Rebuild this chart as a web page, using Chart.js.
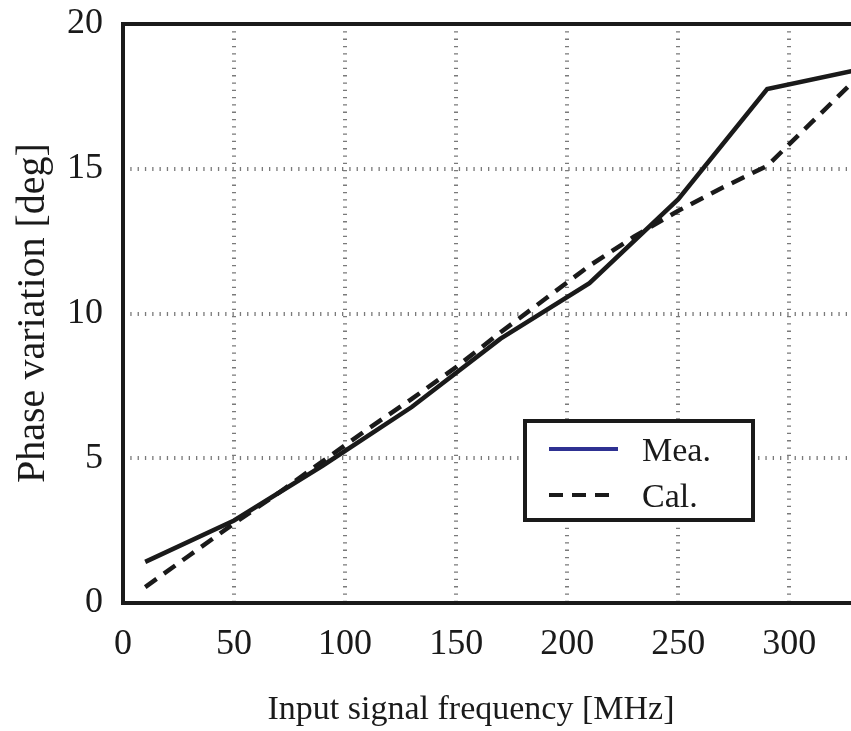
<!DOCTYPE html>
<html>
<head>
<meta charset="utf-8">
<script src="https://cdn.jsdelivr.net/npm/chart.js@4"></script>
<style>
  html, body { margin: 0; padding: 0; background: #fff; overflow: hidden; }
  canvas { display: block; }
</style>
</head>
<body>
<canvas id="phaseChart" width="870" height="731"></canvas>
<script>
// measured points (solid line)
const freqMea = [10, 50, 90, 130, 170, 210, 250, 290, 330];
const phaseMea = [1.42, 2.85, 4.75, 6.77, 9.13, 11.05, 13.95, 17.75, 18.4];

// calculated points (dashed line)
const freqCal = [10, 30, 50, 70, 90, 110, 130, 150, 170, 190, 210, 230, 250, 270, 290, 310, 330];
const phaseCal = [0.55, 1.65, 2.75, 3.8, 4.9, 6.0, 7.05, 8.15, 9.35, 10.5, 11.65, 12.65, 13.55, 14.35, 15.1, 16.6, 18.1];

const xTicks = [0, 50, 100, 150, 200, 250, 300];
const yTicks = [0, 5, 10, 15, 20];
const seriesNames = ['Mea.', 'Cal.'];
const legendColors = ['#2e3192', '#1a1a1a'];

const serif = '"Liberation Serif", "Times New Roman", serif';

const toPoints = (xs, ys) => xs.map((x, i) => ({ x: x, y: ys[i] }));

// frame + axis titles + legend box
const decorPlugin = {
    id: 'decor',
    afterDatasetsDraw(chart) {
        const ctx = chart.ctx;
        const a = chart.chartArea;
        ctx.save();
        ctx.strokeStyle = '#1a1a1a';
        ctx.lineWidth = 4;
        ctx.strokeRect(a.left, a.top, a.right - a.left, a.bottom - a.top);
        ctx.restore();
    },
    afterDraw(chart) {
        const ctx = chart.ctx;
        ctx.save();
        ctx.fillStyle = '#1a1a1a';
        ctx.textAlign = 'center';
        ctx.textBaseline = 'middle';
        ctx.font = '34px ' + serif;
        ctx.fillText('Input signal frequency [MHz]', 471, 710);

        ctx.font = '40px ' + serif;
        ctx.translate(33, 313);
        ctx.rotate(-Math.PI / 2);
        ctx.fillText('Phase variation [deg]', 0, 0);
        ctx.restore();

        // legend
        ctx.save();
        ctx.fillStyle = '#fff';
        ctx.fillRect(525, 421, 228, 99);
        ctx.strokeStyle = '#1a1a1a';
        ctx.lineWidth = 4;
        ctx.strokeRect(525, 421, 228, 99);
        chart.data.datasets.forEach((ds, i) => {
            const y = 449 + i * 46;
            ctx.beginPath();
            ctx.lineWidth = 4;
            ctx.strokeStyle = legendColors[i];
            ctx.setLineDash(ds.borderDash || []);
            ctx.moveTo(549, y);
            ctx.lineTo(618, y);
            ctx.stroke();
            ctx.setLineDash([]);
            ctx.fillStyle = '#1a1a1a';
            ctx.font = '34px ' + serif;
            ctx.textAlign = 'left';
            ctx.textBaseline = 'middle';
            ctx.fillText(ds.label, 642, y + 3);
        });
        ctx.restore();
    }
};

const ctxPhase = document.getElementById('phaseChart').getContext('2d');

let phaseChart = new Chart(ctxPhase, {
    type: 'line',
    data: {
        datasets: [{
            label: seriesNames[0],
            data: toPoints(freqMea, phaseMea),
            borderColor: '#1a1a1a',
            borderWidth: 4.5,
            pointRadius: 0,
            tension: 0,
            fill: false
        }, {
            label: seriesNames[1],
            data: toPoints(freqCal, phaseCal),
            borderColor: '#1a1a1a',
            borderWidth: 4.5,
            borderDash: [14, 9],
            pointRadius: 0,
            tension: 0,
            fill: false
        }]
    },
    options: {
        responsive: false,
        animation: false,
        devicePixelRatio: 1,
        layout: {
            padding: { top: 24, right: 14, left: 0, bottom: 0 }
        },
        plugins: {
            legend: { display: false },
            tooltip: { enabled: false }
        },
        scales: {
            x: {
                type: 'linear',
                min: 0,
                max: 330,
                afterFit: (scale) => {
                    scale.height = 128;
                    scale.paddingLeft = 0;
                    scale.paddingRight = 0;
                },
                afterBuildTicks: (scale) => { scale.ticks = xTicks.map(v => ({ value: v })); },
                grid: {
                    color: '#7a7a7a',
                    lineWidth: 4,
                    drawTicks: false
                },
                border: { display: false, dash: [1.3, 6] },
                ticks: {
                    padding: 20,
                    color: '#1a1a1a',
                    font: { family: serif, size: 36 }
                }
            },
            y: {
                type: 'linear',
                min: 0,
                max: 20,
                afterFit: (scale) => {
                    scale.width = 123;
                    scale.paddingTop = 0;
                    scale.paddingBottom = 0;
                },
                afterBuildTicks: (scale) => { scale.ticks = yTicks.map(v => ({ value: v })); },
                grid: {
                    color: '#7a7a7a',
                    lineWidth: 4,
                    drawTicks: false
                },
                border: { display: false, dash: [1.3, 6] },
                ticks: {
                    padding: 20,
                    color: '#1a1a1a',
                    font: { family: serif, size: 36 }
                }
            }
        }
    },
    plugins: [decorPlugin]
});
</script>
</body>
</html>
